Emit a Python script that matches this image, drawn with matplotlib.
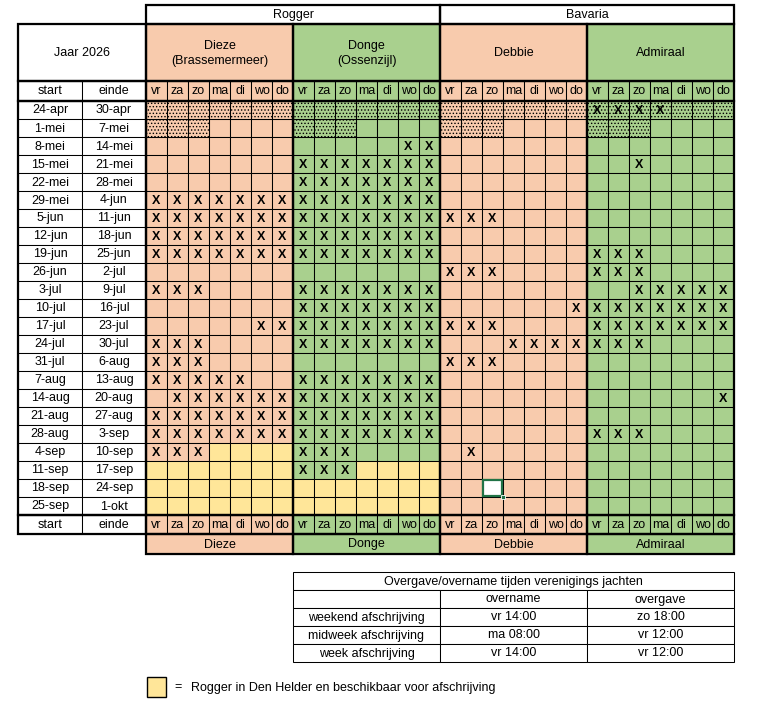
import matplotlib
matplotlib.use("Agg")
import matplotlib.pyplot as plt
from matplotlib.patches import Rectangle

plt.rcParams['font.family'] = ['Liberation Sans', 'DejaVu Sans']
plt.rcParams['hatch.linewidth'] = 0.6

# ---------------- data ----------------
year_label = "Jaar 2026"
groups = ["Rogger", "Bavaria"]
boats = ["Dieze", "Donge", "Debbie", "Admiraal"]
boat_headers = ["Dieze\n(Brassemermeer)", "Donge\n(Ossenzijl)", "Debbie", "Admiraal"]
boat_group = [0, 0, 1, 1]
days = ["vr", "za", "zo", "ma", "di", "wo", "do"]
week_start = ["24-apr", "1-mei", "8-mei", "15-mei", "22-mei", "29-mei", "5-jun", "12-jun",
              "19-jun", "26-jun", "3-jul", "10-jul", "17-jul", "24-jul", "31-jul", "7-aug",
              "14-aug", "21-aug", "28-aug", "4-sep", "11-sep", "18-sep", "25-sep"]
week_end = ["30-apr", "7-mei", "14-mei", "21-mei", "28-mei", "4-jun", "11-jun", "18-jun",
            "25-jun", "2-jul", "9-jul", "16-jul", "23-jul", "30-jul", "6-aug", "13-aug",
            "20-aug", "27-aug", "3-sep", "10-sep", "17-sep", "24-sep", "1-okt"]

# cell codes: '.' free, 'x' booked, 'h' not available (dotted), 'k' dotted + booked,
#             'y' Rogger in Den Helder (yellow)
dieze = ["hhhhhhh", "hhh....", ".......", ".......", ".......", "xxxxxxx", "xxxxxxx",
         "xxxxxxx", "xxxxxxx", ".......", "xxx....", ".......", ".....xx", "xxx....",
         "xxx....", "xxxxx..", ".xxxxxx", "xxxxxxx", "xxxxxxx", "xxxyyyy", "yyyyyyy",
         "yyyyyyy", "yyyyyyy"]
donge = ["hhhhhhh", "hhh....", ".....xx", "xxxxxxx", "xxxxxxx", "xxxxxxx", "xxxxxxx",
         "xxxxxxx", "xxxxxxx", ".......", "xxxxxxx", "xxxxxxx", "xxxxxxx", "xxxxxxx",
         ".......", "xxxxxxx", "xxxxxxx", "xxxxxxx", "xxxxxxx", "xxx....", "xxxyyyy",
         "yyyyyyy", "yyyyyyy"]
debbie = ["hhhhhhh", "hhh....", ".......", ".......", ".......", ".......", "xxx....",
          ".......", ".......", "xxx....", ".......", "......x", "xxx....", "...xxxx",
          "xxx....", ".......", ".......", ".......", ".......", ".x.....", ".......",
          ".......", "......."]
admiraal = ["kkkkhhh", "hhh....", ".......", "..x....", ".......", ".......", ".......",
            ".......", "xxx....", "xxx....", "..xxxxx", "xxxxxxx", "xxxxxxx", "xxx....",
            ".......", ".......", "......x", ".......", "xxx....", ".......", ".......",
            ".......", "......."]
schedule = [dieze, donge, debbie, admiraal]

times_title = "Overgave/overname tijden verenigings jachten"
times_cols = ["", "overname", "overgave"]
times_rows = ["weekend afschrijving", "midweek afschrijving", "week afschrijving"]
times_overname = ["vr 14:00", "ma 08:00", "vr 14:00"]
times_overgave = ["zo 18:00", "vr 12:00", "vr 12:00"]
legend_text = "Rogger in Den Helder en beschikbaar voor afschrijving"

# selected cell (spreadsheet cursor): (boat, row, day)
selected = (2, 21, 2)

# ---------------- style / layout ----------------
SALMON = "#F8CBAD"
GREEN = "#A9D08E"
YELLOW = "#FFE699"
boat_color = [SALMON, GREEN, SALMON, GREEN]
THIN = 0.75
THICK = 1.6
FS = 9

X_LEFT = 18
COL_W = 64
GRID_X = X_LEFT + 2 * COL_W     # 146
CW = 21
BW = 7 * CW                     # 147
Y_TOP = 5
H_GROUP = 19
H_NAME = 57
H_DAYS = 20
RH = 18
y_names = Y_TOP + H_GROUP       # 24
y_days = y_names + H_NAME       # 81
y_data = y_days + H_DAYS        # 101
n_rows = len(week_start)
y_foot = y_data + n_rows * RH   # 515
y_foot2 = y_foot + 19
y_foot_end = y_foot2 + 20

fig = plt.figure(figsize=(7.6, 7.02), dpi=100)
ax = fig.add_axes([0, 0, 1, 1])
ax.set_xlim(0, 760)
ax.set_ylim(702, 0)
ax.axis("off")


def cell(x, y, w, h, fc="white", lw=THIN, hatch=None, z=1):
    if hatch:
        ax.add_patch(Rectangle((x, y), w, h, facecolor=fc, edgecolor="black",
                               linewidth=0, hatch=hatch, zorder=z))
        ax.add_patch(Rectangle((x, y), w, h, facecolor="none", edgecolor="black",
                               linewidth=lw, zorder=z + 0.1))
    else:
        ax.add_patch(Rectangle((x, y), w, h, facecolor=fc, edgecolor="black",
                               linewidth=lw, zorder=z))


def box(x, y, w, h, lw=THICK):
    ax.add_patch(Rectangle((x, y), w, h, facecolor="none", edgecolor="black",
                           linewidth=lw, zorder=5))


def txt(x, y, s, **kw):
    kw.setdefault("fontsize", FS)
    kw.setdefault("ha", "center")
    kw.setdefault("va", "center")
    ax.text(x, y, s, zorder=6, **kw)


# group headers
for g, name in enumerate(groups):
    gx = GRID_X + g * 2 * BW
    cell(gx, Y_TOP, 2 * BW, H_GROUP)
    box(gx, Y_TOP, 2 * BW, H_GROUP)
    txt(gx + BW, Y_TOP + H_GROUP / 2 + 0.5, name)

# year box
cell(X_LEFT, y_names, 2 * COL_W, H_NAME)
box(X_LEFT, y_names, 2 * COL_W, H_NAME)
txt(X_LEFT + COL_W, y_names + H_NAME / 2 + 0.5, year_label)

# left columns header + footer
for yy in (y_days, y_foot):
    h = H_DAYS if yy == y_days else 19
    cell(X_LEFT, yy, COL_W, h)
    cell(X_LEFT + COL_W, yy, COL_W, h)
    box(X_LEFT, yy, 2 * COL_W, h)
    txt(X_LEFT + COL_W / 2, yy + h / 2 + 0.5, "start")
    txt(X_LEFT + 1.5 * COL_W, yy + h / 2 + 0.5, "einde")

# week dates
for r in range(n_rows):
    yy = y_data + r * RH
    cell(X_LEFT, yy, COL_W, RH)
    cell(X_LEFT + COL_W, yy, COL_W, RH)
    txt(X_LEFT + COL_W / 2, yy + RH / 2 + 0.5, week_start[r])
    txt(X_LEFT + 1.5 * COL_W, yy + RH / 2 + 0.5, week_end[r])
box(X_LEFT, y_data, 2 * COL_W, n_rows * RH)

# boats
for b, boat in enumerate(boats):
    bx = GRID_X + b * BW
    col = boat_color[b]
    # name header
    cell(bx, y_names, BW, H_NAME, fc=col)
    box(bx, y_names, BW, H_NAME)
    txt(bx + BW / 2, y_names + H_NAME / 2 + 1, boat_headers[b], linespacing=1.25)
    # day rows top and bottom
    for yy, h in ((y_days, H_DAYS), (y_foot, 19)):
        for d, dn in enumerate(days):
            cell(bx + d * CW, yy, CW, h, fc=col)
            txt(bx + d * CW + CW / 2, yy + h / 2 + 0.5, dn)
        box(bx, yy, BW, h)
    # footer name
    cell(bx, y_foot2, BW, 20, fc=col)
    box(bx, y_foot2, BW, 20)
    txt(bx + BW / 2, y_foot2 + 10.5, boat)
    # data cells
    for r in range(n_rows):
        yy = y_data + r * RH
        for d in range(7):
            code = schedule[b][r][d]
            xx = bx + d * CW
            fc = YELLOW if code == "y" else col
            hatch = "....." if code in "hk" else None
            cell(xx, yy, CW, RH, fc=fc, hatch=hatch)
            if code in "xk":
                txt(xx + CW / 2, yy + RH / 2 + 0.5, "X", fontweight="bold")
    box(bx, y_data, BW, n_rows * RH)

# selected cell cursor
sb, sr, sd = selected
sx = GRID_X + sb * BW + sd * CW
sy = y_data + sr * RH
ax.add_patch(Rectangle((sx + 1, sy + 1), CW - 2, RH - 2, facecolor="white",
                       edgecolor="#217346", linewidth=1.6, zorder=7))
ax.add_patch(Rectangle((sx + CW - 2.5, sy + RH - 2.5), 4.5, 4.5, facecolor="#217346",
                       edgecolor="white", linewidth=0.6, zorder=8))

# hand-over times table
tx = GRID_X + BW            # 293
ty = 572
TH = 18
cell(tx, ty, 3 * BW, TH)
txt(tx + 1.5 * BW, ty + TH / 2 + 0.5, times_title)
for c in range(3):
    cell(tx + c * BW, ty + TH, BW, TH)
    txt(tx + c * BW + BW / 2, ty + 1.5 * TH + 0.5, times_cols[c])
for i in range(len(times_rows)):
    yy = ty + (i + 2) * TH
    vals = [times_rows[i], times_overname[i], times_overgave[i]]
    for c in range(3):
        cell(tx + c * BW, yy, BW, TH)
        txt(tx + c * BW + BW / 2, yy + TH / 2 + 0.5, vals[c])

# legend
lx, ly = GRID_X + 1, 677
cell(lx, ly, 19, 20, fc=YELLOW, lw=1.0)
txt(lx + 31, ly + 10.5, "=", ha="center")
txt(lx + 44, ly + 10.5, legend_text, ha="left")

fig.savefig("out.png", dpi=100)
